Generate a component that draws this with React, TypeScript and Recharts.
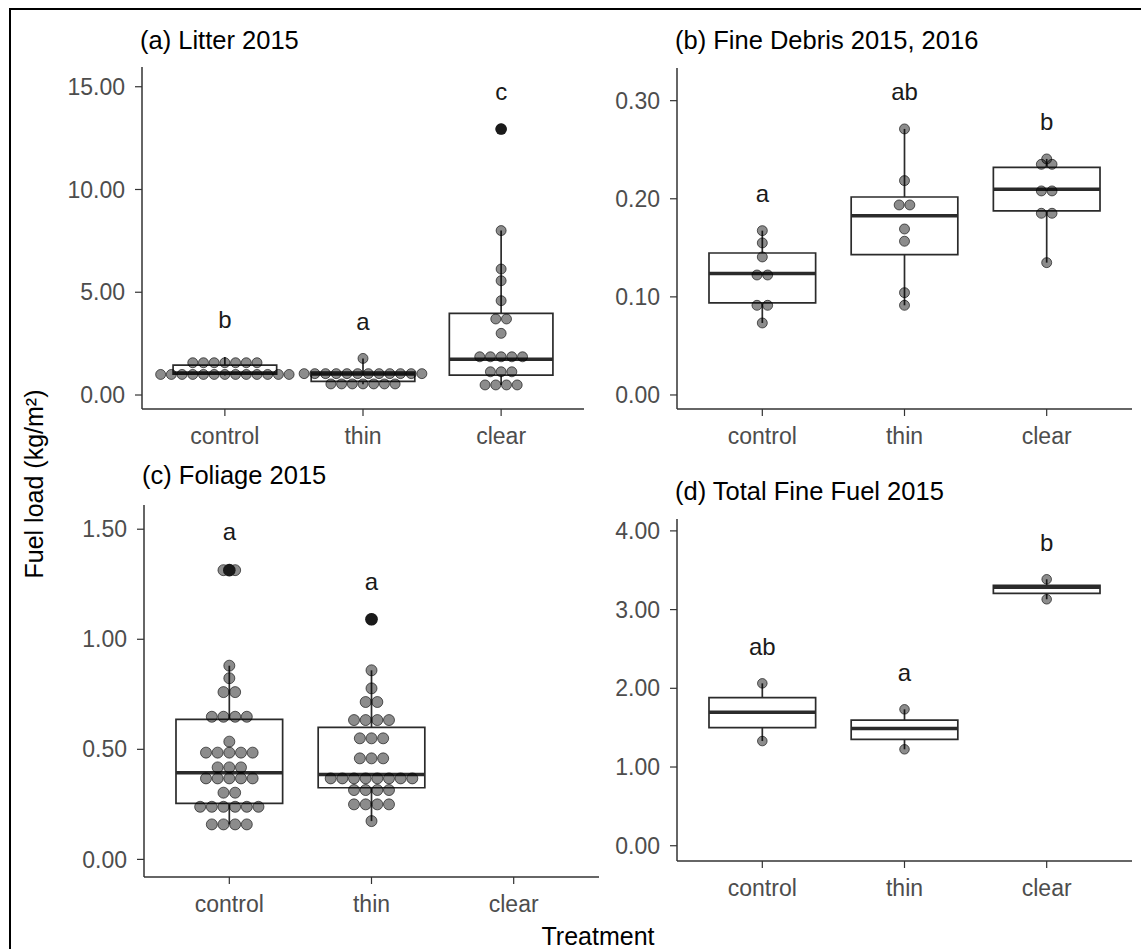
import React from 'react';
import { ComposedChart, Scatter, XAxis, YAxis, ReferenceArea, ReferenceLine } from 'recharts';

const FONT = "Arial, 'Liberation Sans', sans-serif";
const treatments = ['control', 'thin', 'clear'];

// (a) Litter 2015
const litterTicks = [0, 5, 10, 15];
const litterBoxes = [
  { t: 1, lo: 0.95, q1: 1.02, med: 1.07, q3: 1.45, hi: 1.85 },
  { t: 2, lo: 0.52, q1: 0.66, med: 1.02, q3: 1.12, hi: 1.78 },
  { t: 3, lo: 0.49, q1: 0.97, med: 1.74, q3: 3.97, hi: 8.0 },
];
// [treatment, value, count in stack]
const litterDots = [
  [1, 1.0, 13], [1, 1.57, 7],
  [2, 0.54, 7], [2, 1.04, 12], [2, 1.78, 1],
  [3, 0.49, 4], [3, 1.13, 3], [3, 1.86, 5], [3, 3.0, 1], [3, 3.7, 2], [3, 4.59, 1],
  [3, 5.56, 1], [3, 6.13, 1], [3, 8.0, 1], [3, 12.94, 1],
];
const litterOutliers = [[3, 12.94]];
const litterLetters = [[1, 3.66, 'b'], [2, 3.57, 'a'], [3, 14.76, 'c']];

// (b) Fine Debris 2015, 2016
const debrisTicks = [0, 0.1, 0.2, 0.3];
const debrisBoxes = [
  { t: 1, lo: 0.0734, q1: 0.0938, med: 0.1237, q3: 0.1447, hi: 0.1675 },
  { t: 2, lo: 0.0914, q1: 0.143, med: 0.1828, q3: 0.2018, hi: 0.2712 },
  { t: 3, lo: 0.1349, q1: 0.1876, med: 0.2097, q3: 0.2321, hi: 0.2406 },
];
const debrisDots = [
  [1, 0.1675, 1], [1, 0.155, 1], [1, 0.1407, 1], [1, 0.1223, 2], [1, 0.0914, 2], [1, 0.0734, 1],
  [2, 0.2712, 1], [2, 0.2185, 1], [2, 0.1937, 2], [2, 0.1692, 1], [2, 0.1567, 1], [2, 0.1043, 1], [2, 0.0914, 1],
  [3, 0.2406, 1], [3, 0.2351, 2], [3, 0.208, 2], [3, 0.1852, 2], [3, 0.1349, 1],
];
const debrisOutliers: number[][] = [];
const debrisLetters = [[1, 0.2056, 'a'], [2, 0.3093, 'ab'], [3, 0.2787, 'b']];

// (c) Foliage 2015
const foliageTicks = [0, 0.5, 1.0, 1.5];
const foliageBoxes = [
  { t: 1, lo: 0.159, q1: 0.2545, med: 0.394, q3: 0.636, hi: 0.88 },
  { t: 2, lo: 0.174, q1: 0.3255, med: 0.386, q3: 0.6, hi: 0.859 },
];
const foliageDots = [
  [1, 1.314, 2], [1, 0.88, 1], [1, 0.823, 1], [1, 0.76, 2], [1, 0.648, 4], [1, 0.535, 1],
  [1, 0.485, 5], [1, 0.418, 3], [1, 0.368, 5], [1, 0.303, 2], [1, 0.239, 6], [1, 0.159, 4],
  [2, 1.091, 1], [2, 0.859, 1], [2, 0.777, 1], [2, 0.715, 2], [2, 0.633, 4], [2, 0.55, 3],
  [2, 0.459, 3], [2, 0.368, 8], [2, 0.315, 4], [2, 0.25, 4], [2, 0.174, 1],
];
const foliageOutliers = [[1, 1.314], [2, 1.091]];
const foliageLetters = [[1, 1.4895, 'a'], [2, 1.2623, 'a']];

// (d) Total Fine Fuel 2015
const totalTicks = [0, 1, 2, 3, 4];
const totalBoxes = [
  { t: 1, lo: 1.33, q1: 1.5, med: 1.695, q3: 1.881, hi: 2.063 },
  { t: 2, lo: 1.225, q1: 1.352, med: 1.49, q3: 1.597, hi: 1.733 },
  { t: 3, lo: 3.131, q1: 3.207, med: 3.283, q3: 3.309, hi: 3.385 },
];
const totalDots = [[1, 2.063, 1], [1, 1.33, 1], [2, 1.733, 1], [2, 1.225, 1], [3, 3.385, 1], [3, 3.131, 1]];
const totalOutliers: number[][] = [];
const totalLetters = [[1, 2.532, 'ab'], [2, 2.203, 'a'], [3, 3.855, 'b']];

const BOX_HALF = 0.375;

type PanelProps = {
  left: number; top: number; right: number; bottom: number;
  domain: [number, number]; ticks: number[];
  boxes: any[]; dots: any[]; outliers: any[]; letters: any[];
  spacing: number; r: number;
};

function Panel(p: PanelProps) {
  const yW = 110, mT = 10, mR = 8, xH = 50;
  const width = p.right - p.left + yW + mR;
  const height = p.bottom - p.top + mT + xH;
  const dotData = p.dots.flatMap(([t, v, n]: any) =>
    Array.from({ length: n }, (_, k) => ({ x: t + (k - (n - 1) / 2) * p.spacing, y: v })));
  const outData = p.outliers.map(([t, v]: any) => ({ x: t, y: v }));
  const letterData = p.letters.map(([t, v, label]: any) => ({ x: t, y: v, label }));
  const axisStyle = { stroke: '#333', strokeWidth: 1.5 };
  const tickStyle = { fill: '#4d4d4d', fontSize: 23, fontFamily: FONT };
  return (
    <div style={{ position: 'absolute', left: p.left - yW, top: p.top - mT }}>
      <ComposedChart width={width} height={height} margin={{ top: mT, right: mR, bottom: 0, left: 0 }}>
        <XAxis type="number" dataKey="x" domain={[0.4, 3.6]} ticks={[1, 2, 3]} interval={0}
          tickFormatter={(v: number) => treatments[v - 1]} height={xH} allowDataOverflow
          tickSize={7} tickMargin={12} axisLine={axisStyle} tickLine={{ stroke: '#333', strokeWidth: 1.2 }} tick={tickStyle} />
        <YAxis type="number" dataKey="y" domain={p.domain} ticks={p.ticks} interval={0}
          tickFormatter={(v: number) => v.toFixed(2)} width={yW} allowDataOverflow
          tickSize={7} tickMargin={10} axisLine={axisStyle} tickLine={{ stroke: '#333', strokeWidth: 1.2 }} tick={tickStyle} />
        {p.boxes.map((b, i) => (
          <ReferenceArea key={'ba' + i} x1={b.t - BOX_HALF} x2={b.t + BOX_HALF} y1={b.q1} y2={b.q3}
            fill="#fff" fillOpacity={1} stroke="#2b2b2b" strokeWidth={1.7} ifOverflow="visible" />
        ))}
        {p.boxes.map((b, i) => (
          <ReferenceLine key={'wu' + i} segment={[{ x: b.t, y: b.q3 }, { x: b.t, y: b.hi }]}
            stroke="#2b2b2b" strokeWidth={1.7} ifOverflow="visible" />
        ))}
        {p.boxes.map((b, i) => (
          <ReferenceLine key={'wl' + i} segment={[{ x: b.t, y: b.lo }, { x: b.t, y: b.q1 }]}
            stroke="#2b2b2b" strokeWidth={1.7} ifOverflow="visible" />
        ))}
        {p.boxes.map((b, i) => (
          <ReferenceLine key={'md' + i} segment={[{ x: b.t - BOX_HALF, y: b.med }, { x: b.t + BOX_HALF, y: b.med }]}
            stroke="#2b2b2b" strokeWidth={3.5} ifOverflow="visible" />
        ))}
        <Scatter data={dotData} isAnimationActive={false}
          shape={(s: any) => <circle cx={s.cx} cy={s.cy} r={p.r} fill="#000" fillOpacity={0.45} stroke="#000" strokeOpacity={0.6} strokeWidth={1} />} />
        <Scatter data={outData} isAnimationActive={false}
          shape={(s: any) => <circle cx={s.cx} cy={s.cy} r={p.r + 0.8} fill="#1a1a1a" />} />
        <Scatter data={letterData} isAnimationActive={false}
          shape={(s: any) => <text x={s.cx} y={s.cy} dy="0.35em" textAnchor="middle" fontSize={24} fontFamily={FONT} fill="#1a1a1a">{s.payload.label}</text>} />
      </ComposedChart>
    </div>
  );
}

export default function App() {
  const titleStyle = { fontSize: 25.5, fontFamily: FONT, fill: '#000' } as any;
  return (
    <div style={{ position: 'absolute', left: 0, top: 0, width: 1141, height: 949, overflow: 'hidden', background: '#fff' }}>
      <div style={{ position: 'absolute', left: 9, top: 8, width: 1300, height: 1100, borderLeft: '2px solid #000', borderTop: '2px solid #000' }} />
      <svg style={{ position: 'absolute', left: 0, top: 0 }} width={1141} height={949}>
        <text x={140} y={48.5} {...titleStyle}>(a) Litter 2015</text>
        <text x={675} y={48.5} {...titleStyle}>(b) Fine Debris 2015, 2016</text>
        <text x={142} y={483.5} {...titleStyle}>(c) Foliage 2015</text>
        <text x={675} y={499.5} {...titleStyle}>(d) Total Fine Fuel 2015</text>
        <text x={598} y={945} textAnchor="middle" fontSize={25} fontFamily={FONT} fill="#000">Treatment</text>
        <text x={43} y={484} textAnchor="middle" fontSize={25} fontFamily={FONT} fill="#000" transform="rotate(-90 43 484)">Fuel load (kg/m²)</text>
      </svg>
      <Panel left={142} top={67} right={584} bottom={409} domain={[-0.681, 15.96]} ticks={litterTicks}
        boxes={litterBoxes} dots={litterDots} outliers={litterOutliers} letters={litterLetters} spacing={0.0775} r={5} />
      <Panel left={677} top={68} right={1132} bottom={409} domain={[-0.0143, 0.3333]} ticks={debrisTicks}
        boxes={debrisBoxes} dots={debrisDots} outliers={debrisOutliers} letters={debrisLetters} spacing={0.075} r={5} />
      <Panel left={144} top={505} right={599} bottom={877} domain={[-0.08, 1.61]} ticks={foliageTicks}
        boxes={foliageBoxes} dots={foliageDots} outliers={foliageOutliers} letters={foliageLetters} spacing={0.082} r={5.5} />
      <Panel left={677} top={519} right={1132} bottom={861} domain={[-0.194, 4.151]} ticks={totalTicks}
        boxes={totalBoxes} dots={totalDots} outliers={totalOutliers} letters={totalLetters} spacing={0.075} r={4.8} />
    </div>
  );
}
